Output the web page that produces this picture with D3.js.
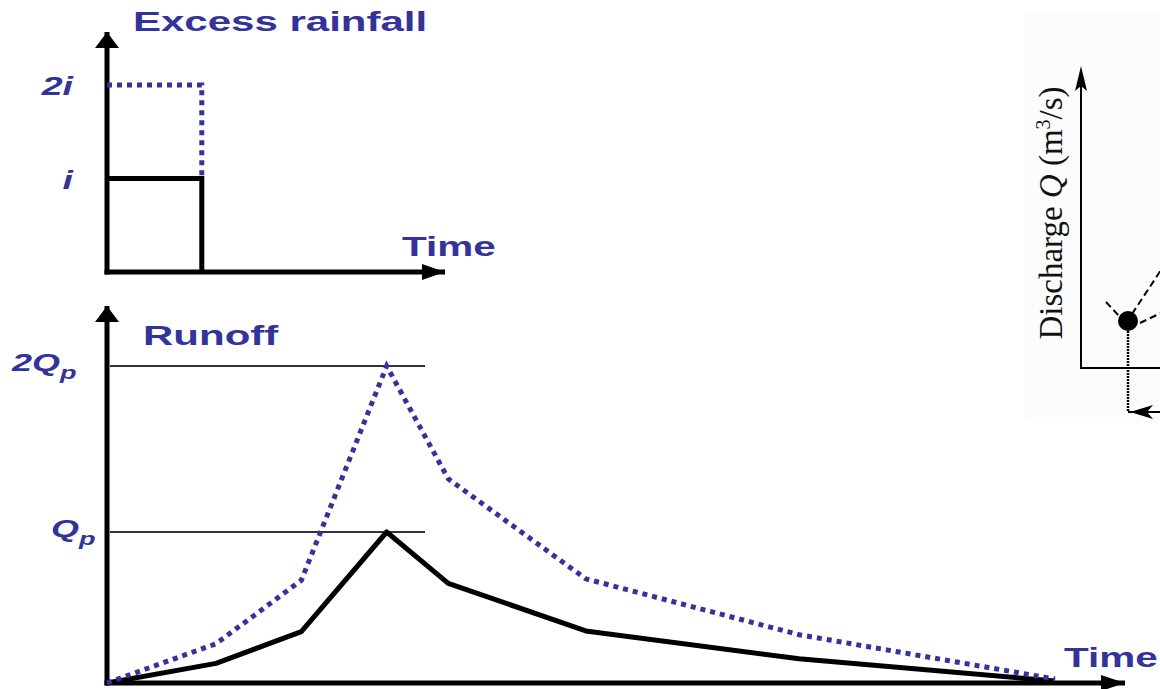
<!DOCTYPE html>
<html>
<head>
<meta charset="utf-8">
<script src="https://cdn.jsdelivr.net/npm/d3@7"></script>
<style>
  body { margin: 0; background: #fff; }
  .lbl { font-family: "Liberation Sans", Arial, sans-serif; font-weight: bold; fill: #333399; }
</style>
</head>
<body>
<svg width="1160" height="689"></svg>
<script>
// excess rainfall (duration 1 time unit)
var rainTime = [0, 1];
var rainSingle = [1, 1];   // i
var rainDouble = [2, 2];   // 2i
var rainTicks = [2, 1];
var rainTickLabels = ["2i", "i"];

// runoff hydrographs, in units of Qp
var runoffTime = [0, 1.15, 2.05, 2.95, 3.6, 5.05, 7.3, 10];
var runoffSingle = [0, 0.13, 0.34, 1.0, 0.66, 0.345, 0.16, 0.013];
var runoffDouble = [0, 0.26, 0.68, 2.0, 1.32, 0.69, 0.32, 0.026];
var runoffTicks = [2, 1];
var runoffTickLabels = ["2Q", "Q"];

var blue = "#333399";
var svg = d3.select("svg");

var x = d3.scaleLinear().domain([0, 10]).range([107, 1055]);
var yRain = d3.scaleLinear().domain([0, 2]).range([272, 85]);
var yRun = d3.scaleLinear().domain([0, 1, 2]).range([683, 532, 366]);

function arrow(x1, y1, x2, y2, len, half, w) {
    svg.append("line")
        .attr("x1", x1).attr("y1", y1).attr("x2", x2).attr("y2", y2)
        .attr("stroke", "#000").attr("stroke-width", w);
    var a = Math.atan2(y2 - y1, x2 - x1);
    var bx = x2 - len * Math.cos(a), by = y2 - len * Math.sin(a);
    var px = -Math.sin(a) * half, py = Math.cos(a) * half;
    svg.append("path")
        .attr("d", "M" + x2 + "," + y2 + "L" + (bx + px) + "," + (by + py) + "L" + (bx - px) + "," + (by - py) + "Z")
        .attr("fill", "#000");
}

function label(px, py, str, size, anchor, italic) {
    return svg.append("text")
        .attr("class", "lbl")
        .attr("transform", "translate(" + px + "," + py + ") scale(1.5,1)")
        .attr("text-anchor", anchor)
        .style("font-size", size + "px")
        .style("font-style", italic ? "italic" : "normal")
        .text(str);
}

// ---- top panel: excess rainfall
arrow(x(0), yRain(0) + 2.5, x(0), 32, 16, 12, 5);
arrow(x(0) - 2.5, yRain(0), 445, yRain(0), 23, 8, 5);

var rainLine = d3.line().x(d => x(d[0])).y(d => yRain(d[1]));
var rs = rainTime.map((t, i) => [t, rainSingle[i]]).concat([[rainTime[1], 0]]);
var rd = rainTime.map((t, i) => [t, rainDouble[i]]).concat([[rainTime[1], rainSingle[1]]]);

svg.append("path").attr("d", rainLine(rs))
    .attr("fill", "none").attr("stroke", "#000").attr("stroke-width", 5);
svg.append("path").attr("d", rainLine(rd))
    .attr("fill", "none").attr("stroke", blue).attr("stroke-width", 5)
    .attr("stroke-dasharray", "5,5");

rainTicks.forEach(function(v, i) {
    label(73, yRain(v) + 10, rainTickLabels[i], 25, "end", true);
});

label(133, 31, "Excess rainfall", 28, "start", false);
label(402, 256, "Time", 27, "start", false);

// ---- bottom panel: runoff
arrow(x(0), yRun(0) + 2.5, x(0), 306, 16, 12, 5);
arrow(x(0) - 2.5, yRun(0), 1125, yRun(0), 24, 8, 5);

svg.selectAll(".ref")
    .data(runoffTicks)
    .enter().append("line")
    .attr("class", "ref")
    .attr("x1", x(0) + 3).attr("x2", 425)
    .attr("y1", d => yRun(d)).attr("y2", d => yRun(d))
    .attr("stroke", "#333").attr("stroke-width", 2);

runoffTicks.forEach(function(v, i) {
    var t = svg.append("text")
        .attr("class", "lbl")
        .attr("transform", "translate(" + (i === 0 ? 12 : 51) + "," + (yRun(v) + 5) + ") scale(1.5,1)")
        .style("font-size", "24px")
        .style("font-style", "italic");
    t.append("tspan").text(runoffTickLabels[i]);
    t.append("tspan").attr("dy", 8).style("font-size", "18px").text("p");
});

var runLine = d3.line().x((d, i) => x(runoffTime[i])).y(d => yRun(d));

svg.append("path").attr("d", runLine(runoffSingle))
    .attr("fill", "none").attr("stroke", "#000").attr("stroke-width", 5)
    .attr("stroke-linejoin", "round");
svg.append("path").attr("d", runLine(runoffDouble))
    .attr("fill", "none").attr("stroke", blue).attr("stroke-width", 5)
    .attr("stroke-dasharray", "5,5");

label(143, 345, "Runoff", 28, "start", false);
label(1064, 667, "Time", 27, "start", false);

// ---- cropped inset on the right
var inset = svg.append("g");
inset.append("rect")
    .attr("x", 1025).attr("y", 13).attr("width", 135).attr("height", 409)
    .attr("fill", "#fcfcfc");
inset.append("line")
    .attr("x1", 1081).attr("y1", 369).attr("x2", 1081).attr("y2", 72)
    .attr("stroke", "#000").attr("stroke-width", 2);
inset.append("path")
    .attr("d", "M1081,66L1087,91L1081,86L1075,91Z").attr("fill", "#000");
inset.append("line")
    .attr("x1", 1080).attr("y1", 368).attr("x2", 1160).attr("y2", 368)
    .attr("stroke", "#000").attr("stroke-width", 2);

[[1106, 302, 1120, 317], [1132, 314, 1161, 270], [1140, 323, 1161, 313]].forEach(function(s) {
    inset.append("line")
        .attr("x1", s[0]).attr("y1", s[1]).attr("x2", s[2]).attr("y2", s[3])
        .attr("stroke", "#000").attr("stroke-width", 2)
        .attr("stroke-dasharray", "7,4");
});

inset.append("line")
    .attr("x1", 1128).attr("y1", 322).attr("x2", 1128).attr("y2", 412)
    .attr("stroke", "#000").attr("stroke-width", 2.5)
    .attr("stroke-dasharray", "2,1");
inset.append("line")
    .attr("x1", 1128).attr("y1", 412).attr("x2", 1160).attr("y2", 412)
    .attr("stroke", "#000").attr("stroke-width", 2);
inset.append("path")
    .attr("d", "M1130,412L1153,405L1147,412L1153,419Z").attr("fill", "#000");
inset.append("circle")
    .attr("cx", 1128).attr("cy", 321).attr("r", 10).attr("fill", "#000");

var dq = inset.append("text")
    .attr("transform", "translate(1062,213) rotate(-90)")
    .attr("text-anchor", "middle")
    .style("font-family", "'Liberation Serif', 'Times New Roman', serif")
    .style("font-size", "33px")
    .attr("fill", "#111");
dq.append("tspan").text("Discharge ");
dq.append("tspan").style("font-style", "italic").text("Q");
dq.append("tspan").text(" (m");
dq.append("tspan").attr("dy", -12).style("font-size", "20px").text("3");
dq.append("tspan").attr("dy", 12).text("/s)");
</script>
</body>
</html>
